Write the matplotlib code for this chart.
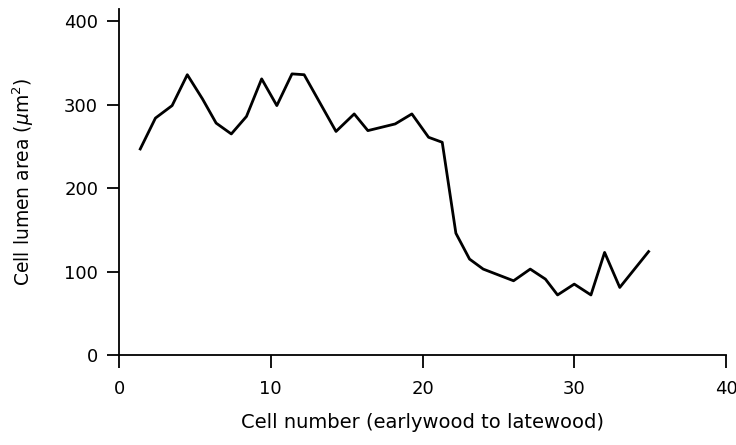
import matplotlib
matplotlib.use('Agg')
import matplotlib.pyplot as plt

# values
cell_number = [1.4, 2.4, 3.5, 4.5, 5.5, 6.4, 7.4, 8.4, 9.4, 10.4, 11.4, 12.2,
               14.3, 15.5, 16.4, 18.2, 19.3, 20.4, 21.3, 22.2, 23.1, 24.0,
               26.0, 27.1, 28.1, 28.9, 30.0, 31.1, 32.0, 33.0, 34.9]
lumen_area = [247, 284, 299, 336, 307, 278, 265, 286, 331, 299, 337, 336,
              268, 289, 269, 277, 289, 261, 255, 146, 115, 103,
              89, 103, 91, 72, 85, 72, 123, 81, 124]
x_ticks = [0, 10, 20, 30, 40]
y_ticks = [0, 100, 200, 300, 400]

fig = plt.figure(figsize=(7.36, 4.45), dpi=100)
ax = fig.add_axes([0.1617, 0.2022, 0.8247, 0.778])

ax.plot(cell_number, lumen_area, color='black', lw=2.0)

ax.set_xlim(0, 40)
ax.set_ylim(0, 415)
ax.set_xticks(x_ticks)
ax.set_yticks(y_ticks)
ax.spines['top'].set_visible(False)
ax.spines['right'].set_visible(False)
for s in ['left', 'bottom']:
    ax.spines[s].set_linewidth(1.3)
ax.spines['bottom'].set_bounds(0, 40)
ax.tick_params(axis='both', direction='out', length=9, width=1.3,
               labelsize=13)
ax.tick_params(axis='x', pad=9)
ax.tick_params(axis='y', pad=6)

ax.set_xlabel('Cell number (earlywood to latewood)', fontsize=14, labelpad=11)
ax.set_ylabel(r'Cell lumen area ($\mu$m$^2$)', fontsize=13.5, labelpad=20)

fig.savefig('out.png', dpi=100)
